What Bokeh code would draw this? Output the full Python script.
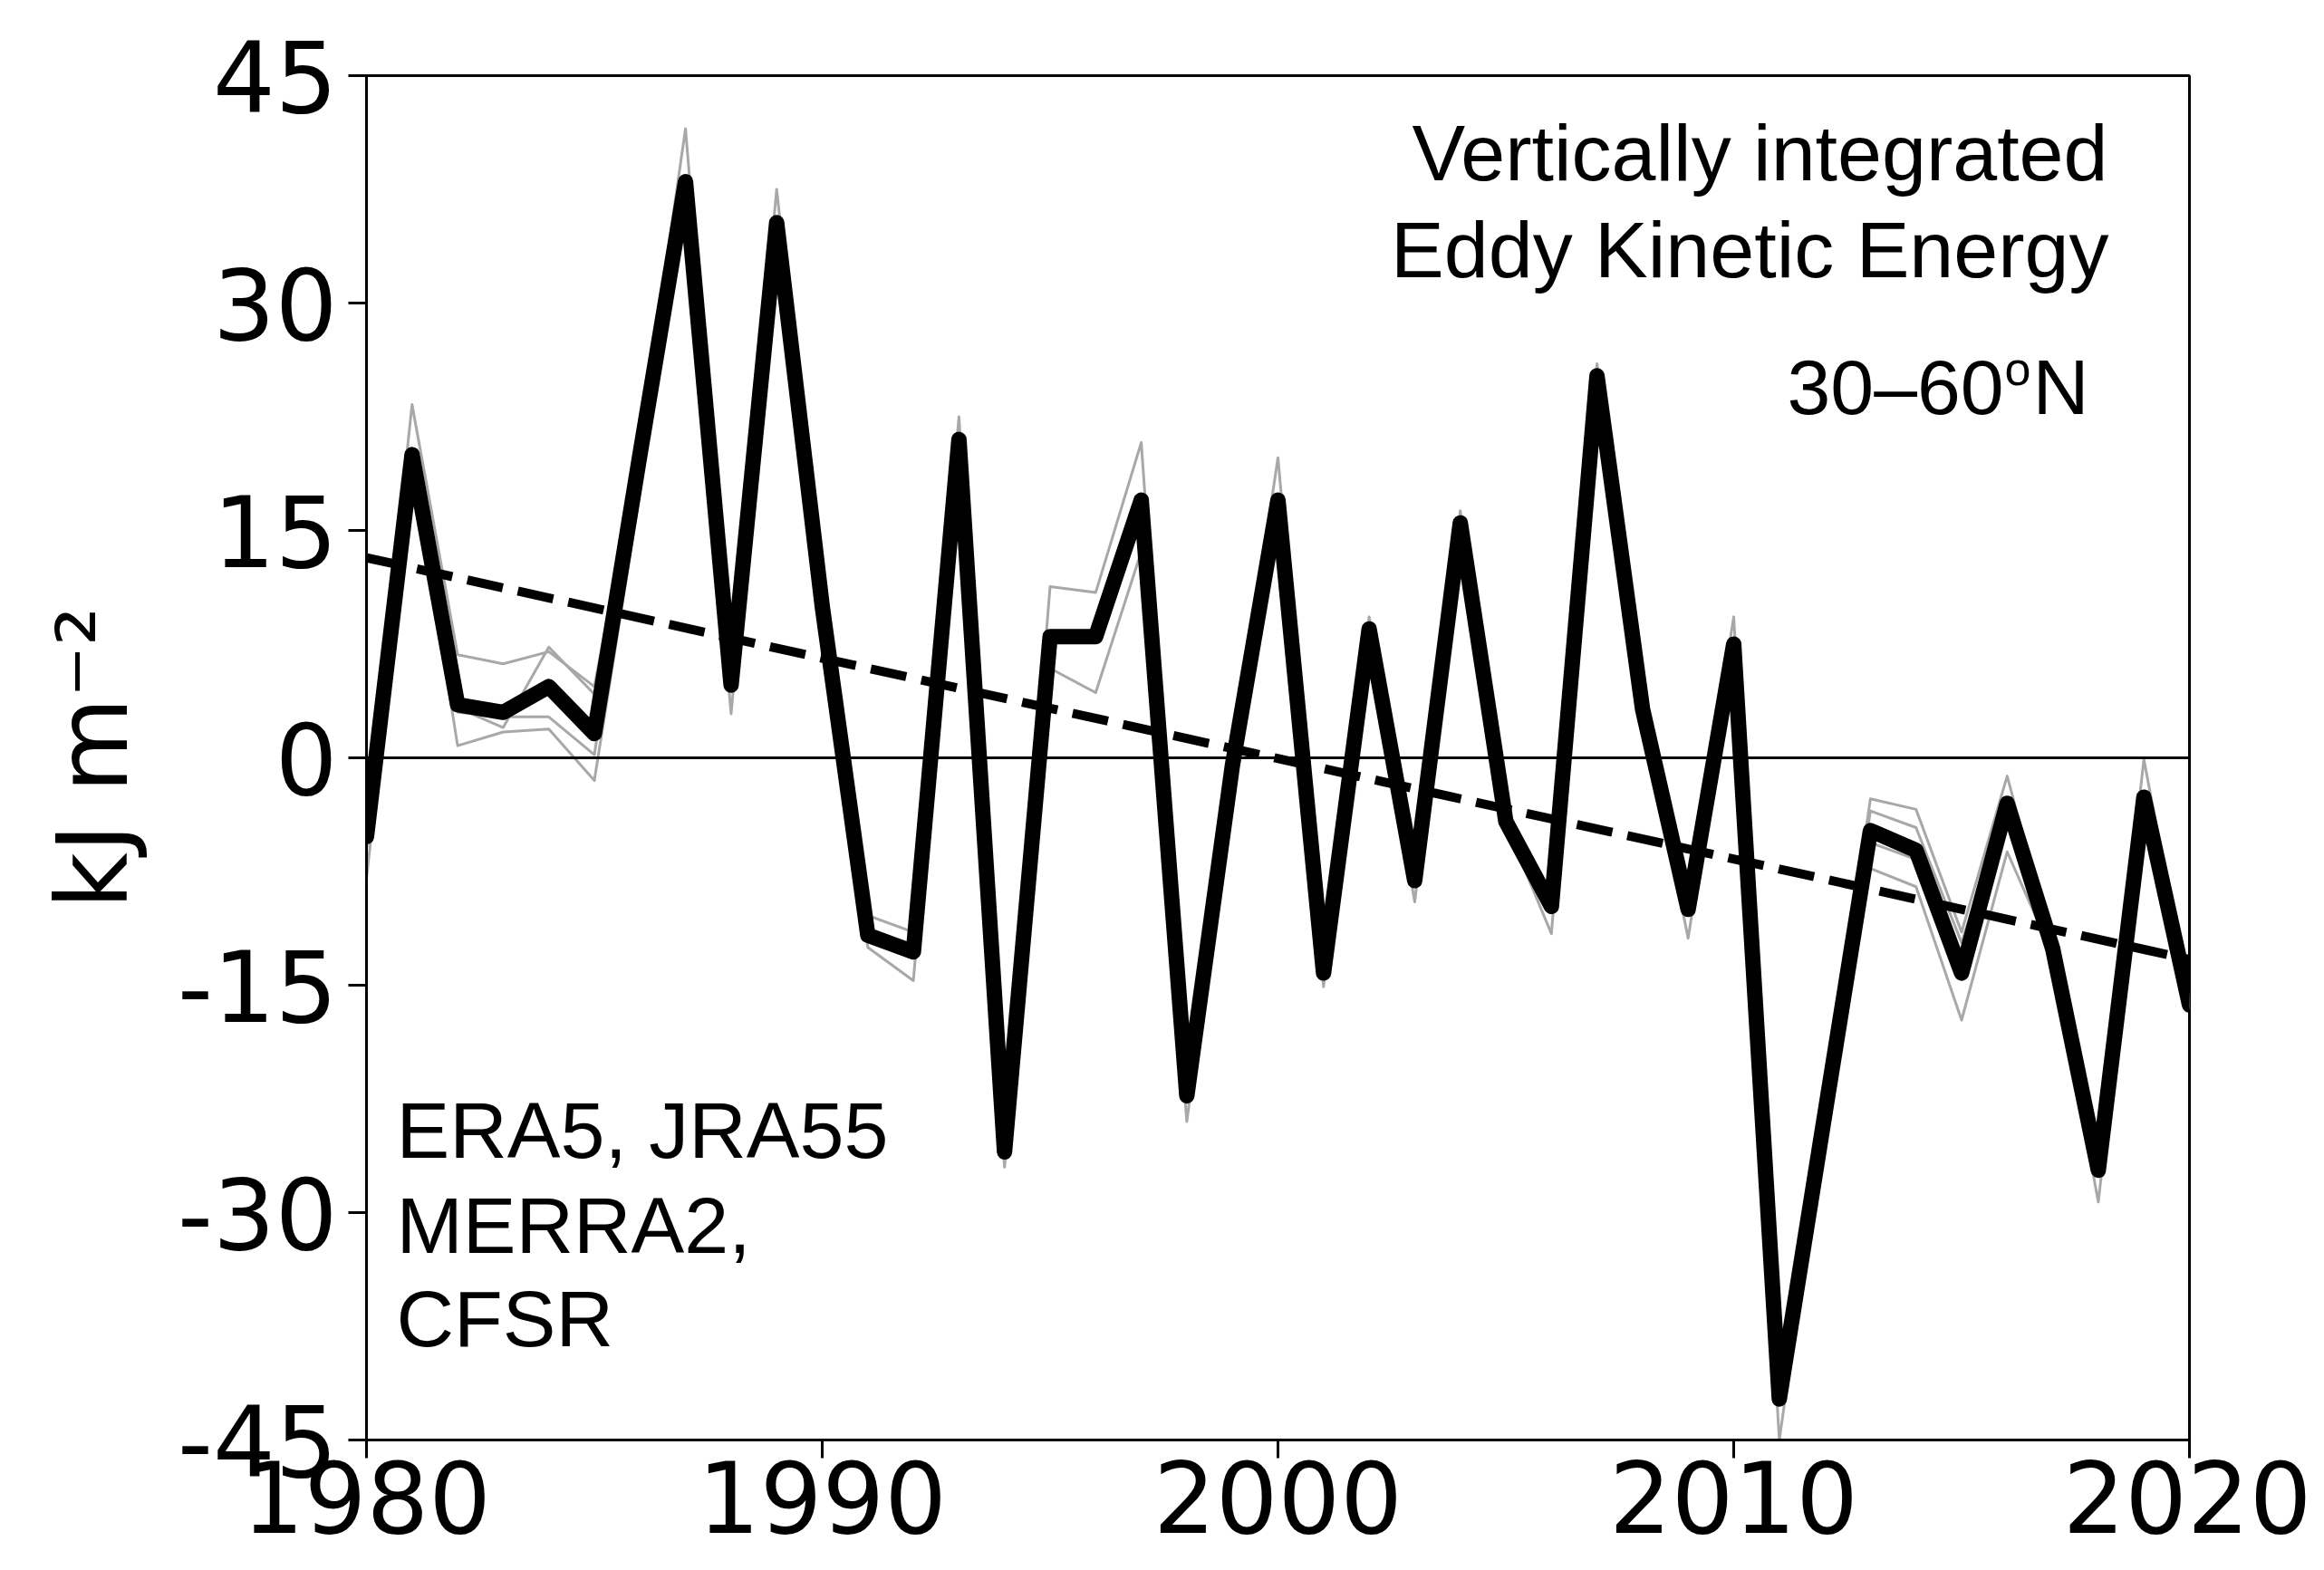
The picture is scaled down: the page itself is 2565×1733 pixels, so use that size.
from bokeh.plotting import figure
from bokeh.models import Range1d, FixedTicker, Span, Label
from bokeh.embed import file_html
from bokeh.resources import INLINE

# ---------------- data ----------------
years = list(range(1980, 2021))

# thick black line (reanalysis mean)
eke_mean = [-5.2, 20.0, 3.5, 3.0, 4.7, 1.6, 20.0, 38.0, 4.8, 35.3,
            10.0, -11.7, -12.8, 21.0, -26.0, 8.0, 8.0, 17.0, -22.3, -0.5,
            17.0, -14.2, 8.5, -8.1, 15.5, -4.2, -9.8, 25.2, 3.2, -10.0,
            7.5, -42.3, -23.5, -4.8, -6.1, -14.2, -3.0, -12.6, -27.2, -2.6, -16.3]

# thin grey lines (individual reanalyses)
eke_a = [-5.0, 23.3, 6.8, 6.2, 7.0, 4.7, 20.5, 41.5, 5.0, 37.5,
         10.2, -10.4, -11.5, 22.5, -25.8, 11.3, 10.9, 20.8, -22.0, -0.3,
         19.8, -14.0, 9.3, -8.0, 16.3, -4.0, -9.6, 26.0, 3.4, -9.8,
         9.3, -42.0, -23.2, -2.7, -3.4, -11.5, -1.2, -12.4, -27.0, -0.1, -16.0]
eke_b = [-8.0, 19.8, 0.8, 1.7, 1.9, -1.5, 17.5, 37.8, 2.9, 35.0,
         9.8, -12.5, -14.7, 20.8, -27.0, 5.9, 4.3, 13.6, -24.0, -0.8,
         16.8, -15.1, 8.3, -9.5, 15.3, -4.4, -11.6, 25.0, 3.0, -11.9,
         7.3, -45.0, -24.0, -7.3, -8.5, -17.3, -6.2, -13.0, -29.3, -2.8, -16.6]
eke_c = [-4.5, 20.2, 3.0, 2.7, 2.7, 0.2, 19.8, 38.2, 4.9, 35.4,
         10.0, -11.5, -12.5, 21.0, -26.0, 8.0, 8.2, 17.2, -22.2, -0.4,
         17.0, -14.2, 8.5, -8.1, 15.5, -4.2, -9.8, 25.2, 3.2, -10.0,
         7.5, -42.3, -23.5, -3.5, -4.6, -12.2, -2.8, -12.6, -27.2, -2.6, -16.3]
eke_d = [-6.0, 19.5, 3.3, 2.0, 7.3, 4.2, 19.5, 37.6, 4.6, 35.2,
         10.0, -11.9, -13.0, 20.8, -26.3, 7.8, 7.9, 17.0, -22.5, -0.5,
         16.8, -14.3, 8.4, -8.2, 15.4, -4.3, -10.0, 25.0, 3.0, -10.2,
         7.4, -42.5, -23.6, -5.6, -6.7, -14.5, -3.2, -12.8, -27.4, -2.8, -16.5]

# linear trend end points
trend_years = [1980, 2020]
trend_values = [13.2, -13.3]

x_ticks = [1980, 1990, 2000, 2010, 2020]
x_tick_labels = ["1980", "1990", "2000", "2010", "2020"]
y_ticks = [-45, -30, -15, 0, 15, 30, 45]
y_tick_labels = ["-45", "-30", "-15", "0", "15", "30", "45"]

title_lines = ["Vertically integrated", "Eddy Kinetic Energy"]
region_text = ["30\u201360", "o", "N"]
dataset_lines = ["ERA5, JRA55", "MERRA2,", "CFSR"]
ylabel = "kJ m\u207b\u00b2"

# ---------------- layout ----------------
FRAME_L, FRAME_T, FRAME_W, FRAME_H = 404, 83, 2012, 1506  # page pixels
X0, X1, Y0, Y1 = 1980, 2020, -45, 45


def dx(px):
    return X0 + (px - FRAME_L) / FRAME_W * (X1 - X0)


def dy(py):
    return Y1 - (py - FRAME_T) / FRAME_H * (Y1 - Y0)


p = figure(frame_width=FRAME_W, frame_height=FRAME_H,
           x_range=Range1d(X0, X1), y_range=Range1d(Y0, Y1),
           output_backend="svg", toolbar_location=None,
           min_border_left=FRAME_L, min_border_top=FRAME_T,
           min_border_right=135, min_border_bottom=144)
p.background_fill_color = "white"
p.border_fill_color = "white"
p.outline_line_color = "black"
p.outline_line_width = 3
p.xgrid.visible = False
p.ygrid.visible = False

for ax, ticks, labels in ((p.xaxis, x_ticks, x_tick_labels), (p.yaxis, y_ticks, y_tick_labels)):
    ax.ticker = FixedTicker(ticks=ticks)
    ax.major_label_overrides = {t: l for t, l in zip(ticks, labels)}
    ax.axis_line_width = 3
    ax.axis_line_color = "black"
    ax.major_tick_out = 20
    ax.major_tick_in = 0
    ax.major_tick_line_width = 3
    ax.major_tick_line_color = "black"
    ax.minor_tick_line_color = None
    ax.major_label_text_font = "DejaVu Sans"
    ax.major_label_text_font_size = "108px"
    ax.major_label_text_color = "black"
p.yaxis.major_label_standoff = 12
p.xaxis.major_label_standoff = 2

p.yaxis.axis_label = ylabel
p.yaxis.axis_label_text_font = "DejaVu Sans"
p.yaxis.axis_label_text_font_size = "108px"
p.yaxis.axis_label_text_font_style = "normal"
p.yaxis.axis_label_text_color = "black"
p.yaxis.axis_label_standoff = 28

# zero line
p.add_layout(Span(location=0, dimension="width", line_color="black", line_width=3))

# grey individual reanalyses
for ser in (eke_a, eke_b, eke_c, eke_d):
    p.line(years, ser, line_color="#a8a8a8", line_width=3, line_join="round")

# mean
p.line(years, eke_mean, line_color="black", line_width=17, line_join="round", line_cap="round")

# trend
p.line(trend_years, trend_values, line_color="black", line_width=10, line_dash="40 17")

# ---------------- texts ----------------
TF = "Liberation Sans"


def add_text(px, py_base, text, size, align):
    p.add_layout(Label(x=dx(px), y=dy(py_base - 0.35 * size), text=text, text_font=TF,
                       text_font_size=f"{size}px", text_align=align,
                       text_baseline="middle", text_color="black"))


add_text(2326, 199, title_lines[0], 88, "right")
add_text(2327, 306, title_lines[1], 88, "right")
add_text(1972, 457, region_text[0], 86, "left")
add_text(2212, 425, region_text[1], 52, "left")
add_text(2243, 457, region_text[2], 86, "left")
for line, base in zip(dataset_lines, (1278, 1383, 1486)):
    add_text(437, base, line, 88, "left")

open("out.html", "w").write(file_html(p, INLINE))
